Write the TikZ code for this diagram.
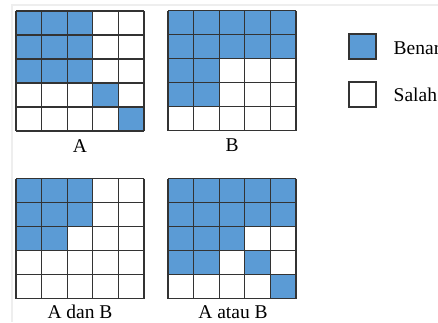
\documentclass[tikz,border=0pt]{standalone}
\usepackage{fontspec}
\setmainfont{Liberation Serif}
\definecolor{cellblue}{HTML}{5B9BD5}
\definecolor{gridline}{HTML}{333333}
\definecolor{faint}{HTML}{EEEEEE}
\tikzset{
  gridcell/.style={draw=gridline, line width=1.3pt},
  legendbox/.style={draw=gridline, line width=1.2pt, minimum width=27pt, minimum height=25pt, inner sep=0pt},
  lbl/.style={font=\fontsize{19.5}{21}\selectfont, inner sep=0pt},
}
\newcommand{\mygrid}[5]{% #1 name, #2 x0, #3 y0, #4 cell w, #5 pattern rows list
  \foreach \row [count=\r from 0] in {#5} {
    \foreach \v [count=\c from 0] in \row {
      \ifnum\v=1
        \fill[cellblue] ({#2+\c*#4},{#3+\r*24}) rectangle ++(#4,24);
      \fi
    }
  }
  \foreach \i in {0,...,5} {
    \draw[gridcell] ({#2+\i*#4},#3) -- ({#2+\i*#4},{#3+120});
    \draw[gridcell] (#2,{#3+\i*24}) -- ({#2+5*#4},{#3+\i*24});
  }
  \coordinate (#1) at ({#2+2.5*#4},{#3+120});
}
\begin{document}
\begin{tikzpicture}[x=1pt,y=-1pt]
\useasboundingbox (0,0) rectangle (438,322);
\fill[white] (0,0) rectangle (438,322);
\fill[faint] (12,4) rectangle (438,6);
\fill[faint] (11,4) rectangle (13,322);
\mygrid{ga}{16}{11}{25.6}{{1,1,1,0,0},{1,1,1,0,0},{1,1,1,0,0},{0,0,0,1,0},{0,0,0,0,1}}
\mygrid{gb}{168}{10.5}{25.6}{{1,1,1,1,1},{1,1,1,1,1},{1,1,0,0,0},{1,1,0,0,0},{0,0,0,0,0}}
\mygrid{gc}{16}{178.5}{25.6}{{1,1,1,0,0},{1,1,1,0,0},{1,1,0,0,0},{0,0,0,0,0},{0,0,0,0,0}}
\mygrid{gd}{168}{178.5}{25.6}{{1,1,1,1,1},{1,1,1,1,1},{1,1,1,0,0},{1,1,0,1,0},{0,0,0,0,1}}
\node[lbl] (la) at (80,146.5) {A};
\node[lbl] (lb) at (232,145) {B};
\node[lbl] (lc) at (80,312) {A dan B};
\node[lbl] (ld) at (233,312) {A atau B};
\node[legendbox, fill=cellblue] (kb) at (362.5,46.5) {};
\node[legendbox, fill=white] (ks) at (362.5,94.5) {};
\node[lbl, anchor=west] (tb) at (393.5,48.5) {Benar};
\node[lbl, anchor=west] (ts) at (393.5,94.5) {Salah};
\end{tikzpicture}
\end{document}
